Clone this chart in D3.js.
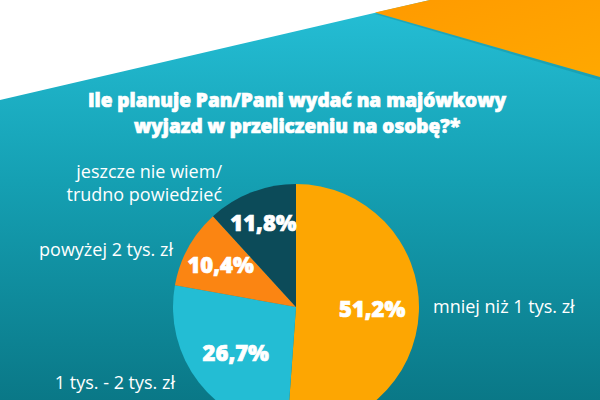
<!DOCTYPE html>
<html>
<head>
<meta charset="utf-8">
<script src="https://cdn.jsdelivr.net/npm/d3@7"></script>
<style>
  html, body { margin: 0; padding: 0; background: #fff; }
  svg { display: block; }
  text { font-family: "Open Sans", "Noto Sans", sans-serif; fill: #fff; }
  .heavy { font-weight: 800; stroke: #fff; stroke-width: 0.7px; }
</style>
</head>
<body>
<div id="chart"></div>
<script>
// data
const categories = ['mniej niż 1 tys. zł', '1 tys. - 2 tys. zł', 'powyżej 2 tys. zł', 'jeszcze nie wiem/ trudno powiedzieć'];
const values = [51.2, 26.7, 10.4, 11.8];
const valueLabels = ['51,2%', '26,7%', '10,4%', '11,8%'];
const sliceColors = ['#fda602', '#23bdd4', '#fb8512', '#0c4b59'];
const titleLines = ['Ile planuje Pan/Pani wydać na majówkowy', 'wyjazd w przeliczeniu na osobę?*'];

const width = 600, height = 400;
const cx = 296, cy = 307, radius = 123;

const svg = d3.select('#chart').append('svg')
    .attr('width', width)
    .attr('height', height);

// background gradient
const defs = svg.append('defs');
const bg = defs.append('linearGradient')
    .attr('id', 'bg').attr('x1', 0).attr('y1', 0).attr('x2', 0).attr('y2', 1);
bg.append('stop').attr('offset', '0%').attr('stop-color', '#25bfd6');
bg.append('stop').attr('offset', '45%').attr('stop-color', '#15a0b3');
bg.append('stop').attr('offset', '100%').attr('stop-color', '#0a7887');

const og = defs.append('linearGradient')
    .attr('id', 'og').attr('x1', 0).attr('y1', 0).attr('x2', 1).attr('y2', 1);
og.append('stop').attr('offset', '0%').attr('stop-color', '#ff9a00');
og.append('stop').attr('offset', '100%').attr('stop-color', '#ffa800');

svg.append('rect')
    .attr('width', width).attr('height', height)
    .attr('fill', 'url(#bg)');

// white corner top-left
svg.append('path')
    .attr('d', 'M0,0 L430,0 L0,100 Z')
    .attr('fill', '#ffffff');

// orange corner top-right (with soft shadow underneath)
svg.append('path')
    .attr('d', 'M375,14 L430,1 L600,1 L600,80 Z')
    .attr('fill', '#0a6f7c')
    .attr('opacity', 0.25);
svg.append('path')
    .attr('d', 'M375,12.5 L430,0 L600,0 L600,77 Z')
    .attr('fill', 'url(#og)');

// title, one text per line
svg.selectAll('text.title')
    .data(titleLines)
    .join('text')
    .attr('class', 'title heavy')
    .attr('x', 297)
    .attr('y', (d, i) => 107 + i * 26)
    .attr('text-anchor', 'middle')
    .style('font-size', '19px')
    .text(d => d);

// pie
const pie = d3.pie().sort(null).value(d => d);
const arc = d3.arc().innerRadius(0).outerRadius(radius);
const arcs = pie(values);

const g = svg.append('g').attr('transform', `translate(${cx},${cy})`);

g.selectAll('path.slice')
    .data(arcs)
    .join('path')
    .attr('class', 'slice')
    .attr('d', arc)
    .attr('fill', (d, i) => sliceColors[i]);

// value labels inside slices
const labelRadius = [0.62, 0.62, 0.70, 0.73];
g.selectAll('text.val')
    .data(arcs)
    .join('text')
    .attr('class', 'val heavy')
    .attr('transform', (d, i) => {
        const a = d3.arc().innerRadius(radius * labelRadius[i]).outerRadius(radius * labelRadius[i]);
        const c = a.centroid(d);
        return `translate(${c[0]},${c[1]})`;
    })
    .attr('text-anchor', 'middle')
    .attr('dy', '0.35em')
    .style('font-size', '22px')
    .text((d, i) => valueLabels[i]);

// category labels outside
const catPos = [
    { x: 433, y: 307, anchor: 'start', lines: [categories[0]] },
    { x: 175, y: 383, anchor: 'end', lines: [categories[1]] },
    { x: 173, y: 250, anchor: 'end', lines: [categories[2]] },
    { x: 222, y: 172, anchor: 'end', lines: ['jeszcze nie wiem/', 'trudno powiedzieć'] }
];

catPos.forEach(p => {
    p.lines.forEach((line, i) => {
        svg.append('text')
            .attr('class', 'cat')
            .attr('text-anchor', p.anchor)
            .attr('x', p.x)
            .attr('y', p.y + i * 23)
            .attr('dy', '0.35em')
            .style('font-size', '18px')
            .text(line);
    });
});
</script>
</body>
</html>
